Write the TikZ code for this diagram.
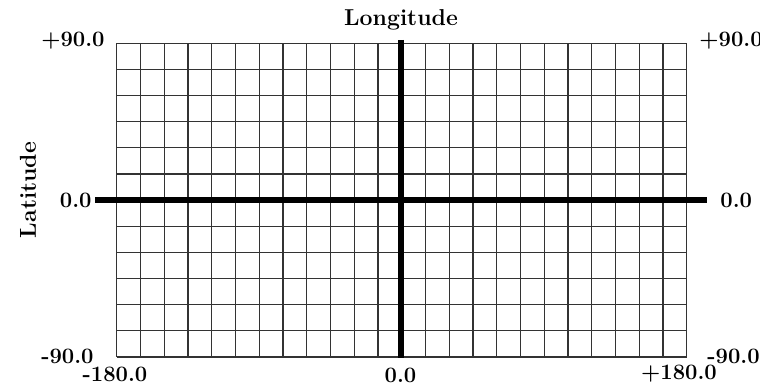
\documentclass[tikz,border=0pt]{standalone}
\usepackage{tikz}
\usetikzlibrary{positioning}
\tikzset{
gridline/.style={
draw=black!80,
line width=0.6pt
},
axisline/.style={
draw=black,
line width=3pt
},
tick/.style={
font=\fontsize{11}{13}\selectfont\bfseries,
inner sep=0pt
},
title/.style={
font=\fontsize{11.5}{13}\selectfont\bfseries,
inner sep=0pt
}
}
\begin{document}
\begin{tikzpicture}[x=0.5pt,y=-0.5pt]
\useasboundingbox (0,0) rectangle (760,385);
% grid, 15 degree cells
\foreach \i in {0,...,24}
\draw[gridline]({116.7+23.75*\i},43.3)--++(0,313.7);
\foreach \j in {0,...,12}
\draw[gridline](116.7,{43.3+26.14*\j})--++(570,0);

\coordinate(west) at (95,200);
\coordinate(east) at (707,200);
\coordinate(north) at (400.5,40);
\coordinate(south) at (400.5,358);
\draw[axisline](west)--(east);
\draw[axisline](north)--(south);

\node[title](lon) at (401,20){Longitude};
\node[title,rotate=90](lat) at (28,190){Latitude};

\node[tick,anchor=east](nwl) at (105,41){+90.0};
\node[tick,anchor=west](nel) at (699,41){+90.0};
\node[tick,anchor=east](wl) at (92,200){0.0};
\node[tick,anchor=west](el) at (720,200){0.0};
\node[tick,anchor=east](swl) at (94,356){-90.0};
\node[tick,anchor=west](sel) at (707,356){-90.0};
\node[tick](lonw) at (115,374){-180.0};
\node[tick](lonc) at (400.5,375){0.0};
\node[tick](lone) at (679,374){+180.0};
\end{tikzpicture}
\end{document}
